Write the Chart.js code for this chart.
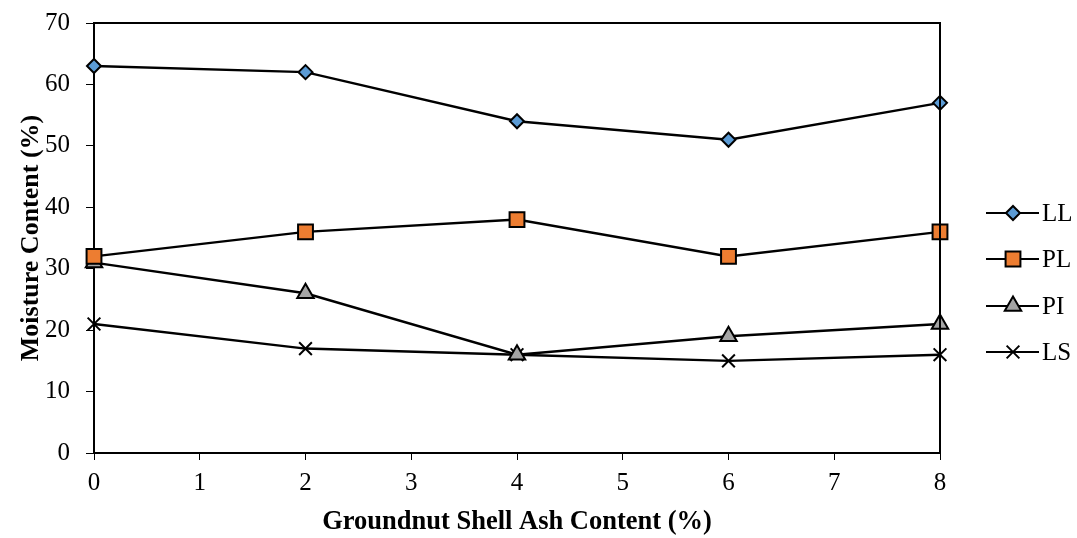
<!DOCTYPE html>
<html>
<head>
<meta charset="utf-8">
<script src="https://cdn.jsdelivr.net/npm/chart.js@4.4.1/dist/chart.umd.min.js"></script>
<style>
  html, body { margin: 0; padding: 0; background: #fff; }
  #wrap { width: 1077px; height: 538px; }
</style>
</head>
<body>
<div id="wrap"><canvas id="chart"></canvas></div>
<script>
// ---- data ----
const ashContent = [0, 2, 4, 6, 8];
const LL = [63, 62, 54, 51, 57];
const PL = [32, 36, 38, 32, 36];
const PI = [31, 26, 16, 19, 21];
const LS = [21, 17, 16, 15, 16];

const FONT = "'Liberation Serif', 'Times New Roman', serif";

function pts(ys) {
  return ashContent.map((x, i) => ({ x: x, y: ys[i] }));
}

const series = [
  { label: "LL", data: LL, style: "rectRot", radius: 7, fill: "#5b9bd5" },
  { label: "PL", data: PL, style: "rect", radius: 10.5, fill: "#ed7d31" },
  { label: "PI", data: PI, style: "triangle", radius: 9.5, fill: "#a5a5a5" },
  { label: "LS", data: LS, style: "crossRot", radius: 9, fill: "#000" },
];

// box on top/right + custom legend
const boxAndLegend = {
  id: "boxAndLegend",
  afterDraw(chart) {
    const c = chart.ctx;
    const a = chart.chartArea;
    c.save();
    c.strokeStyle = "#000";
    c.lineWidth = 2;
    c.beginPath();
    c.moveTo(a.left, a.top);
    c.lineTo(a.right, a.top);
    c.lineTo(a.right, a.bottom);
    c.stroke();

    const legendY = [213, 259, 306, 352];
    series.forEach((s, i) => {
      const y = legendY[i];
      c.strokeStyle = "#000";
      c.lineWidth = 2;
      c.beginPath();
      c.moveTo(986, y);
      c.lineTo(1039, y);
      c.stroke();
      c.fillStyle = s.fill;
      c.lineWidth = 2;
      Chart.helpers.drawPoint(c, { pointStyle: s.style, radius: s.radius, borderWidth: 2 }, 1013, y);
      c.fillStyle = "#000";
      c.font = "25px " + FONT;
      c.textBaseline = "middle";
      c.fillText(s.label, 1042, y + 1);
    });
    c.restore();
  }
};

new Chart(document.getElementById("chart"), {
  type: "line",
  data: {
    datasets: series.map(s => ({
      label: s.label,
      data: pts(s.data),
      borderColor: "#000",
      borderWidth: 2.4,
      pointStyle: s.style,
      pointRadius: s.radius,
      pointHoverRadius: s.radius,
      pointBackgroundColor: s.fill,
      pointBorderColor: "#000",
      pointBorderWidth: 2,
      tension: 0,
      fill: false,
      clip: false,
    })),
  },
  options: {
    responsive: true,
    maintainAspectRatio: false,
    animation: false,
    layout: { padding: { top: 23, right: 137, left: 0, bottom: 0 } },
    plugins: { legend: { display: false }, tooltip: { enabled: false } },
    scales: {
      x: {
        type: "linear",
        min: 0,
        max: 8,
        ticks: { stepSize: 1, color: "#000", font: { family: FONT, size: 25 }, padding: 8 },
        grid: { drawOnChartArea: false, drawTicks: true, tickLength: 7, color: "#000" },
        border: { color: "#000", width: 2 },
        title: {
          display: true,
          text: "Groundnut Shell Ash Content (%)",
          color: "#000",
          font: { family: FONT, size: 26.5, weight: "bold" },
          padding: { top: 0, bottom: 0 },
        },
        afterFit(scale) { scale.height = 85; },
      },
      y: {
        min: 0,
        max: 70,
        ticks: { stepSize: 10, color: "#000", font: { family: FONT, size: 25 }, padding: 16 },
        grid: { drawOnChartArea: false, drawTicks: true, tickLength: 8, color: "#000" },
        border: { color: "#000", width: 2 },
        title: {
          display: true,
          text: "Moisture Content (%)",
          color: "#000",
          font: { family: FONT, size: 26, weight: "bold" },
          padding: { top: 16, bottom: 0 },
        },
        afterFit(scale) {
          scale.width = 94;
          scale.paddingTop = 0;
          scale.paddingBottom = 0;
        },
      },
    },
  },
  plugins: [boxAndLegend],
});
</script>
</body>
</html>
